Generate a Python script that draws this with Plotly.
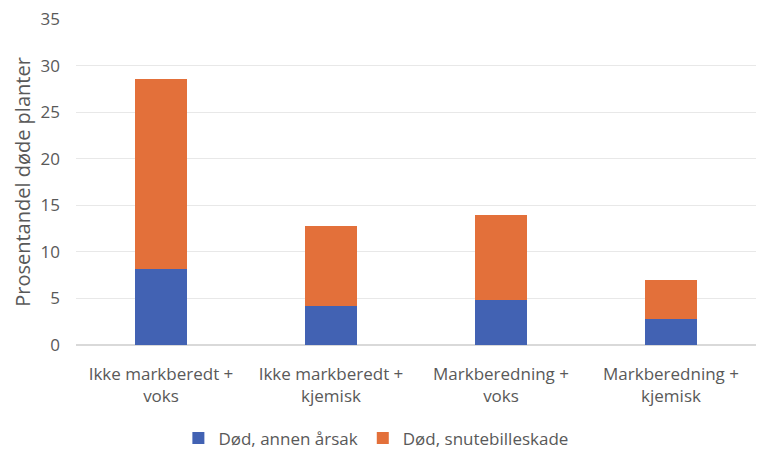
import plotly.graph_objects as go

categories = ["Ikke markberedt +<br>voks", "Ikke markberedt +<br>kjemisk",
              "Markberedning +<br>voks", "Markberedning +<br>kjemisk"]
annen_arsak = [8.2, 4.2, 4.8, 2.8]
snutebille = [20.4, 8.6, 9.2, 4.2]
y_ticks = [0, 5, 10, 15, 20, 25, 30, 35]

font_color = "#595959"
fig = go.Figure()
fig.add_trace(go.Bar(x=categories, y=annen_arsak, name="Død, annen årsak",
                     marker=dict(color="#4262B3", line=dict(width=0))))
fig.add_trace(go.Bar(x=categories, y=snutebille, name="Død, snutebilleskade",
                     marker=dict(color="#E3703A", line=dict(width=0))))
fig.update_layout(
    barmode="stack", bargap=0.69,
    width=765, height=459,
    margin=dict(l=68, r=17, t=11, b=117),
    paper_bgcolor="white", plot_bgcolor="white",
    font=dict(family="Open Sans", size=17, color=font_color),
    xaxis=dict(showline=False, ticks="", automargin=False, ticklabelstandoff=17,
               tickangle=0,
               tickfont=dict(family="Open Sans", size=17, color=font_color)),
    yaxis=dict(range=[0, 35], tickvals=y_ticks, showgrid=True, gridcolor="#E8E8E8",
               zeroline=True, zerolinecolor="#D9D9D9", ticks="", automargin=False,
               ticklabelstandoff=15, ticklabeloverflow="allow",
               tickfont=dict(family="Open Sans", size=17, color=font_color),
               title=dict(text="Prosentandel døde planter",
                          font=dict(family="Open Sans", size=20, color=font_color), standoff=4)),
    legend=dict(orientation="h", x=0.441, xanchor="center",
                y=-0.287, yanchor="middle",
                font=dict(family="Open Sans", size=17, color=font_color), traceorder="normal"),
)
fig.write_html("out.html")
